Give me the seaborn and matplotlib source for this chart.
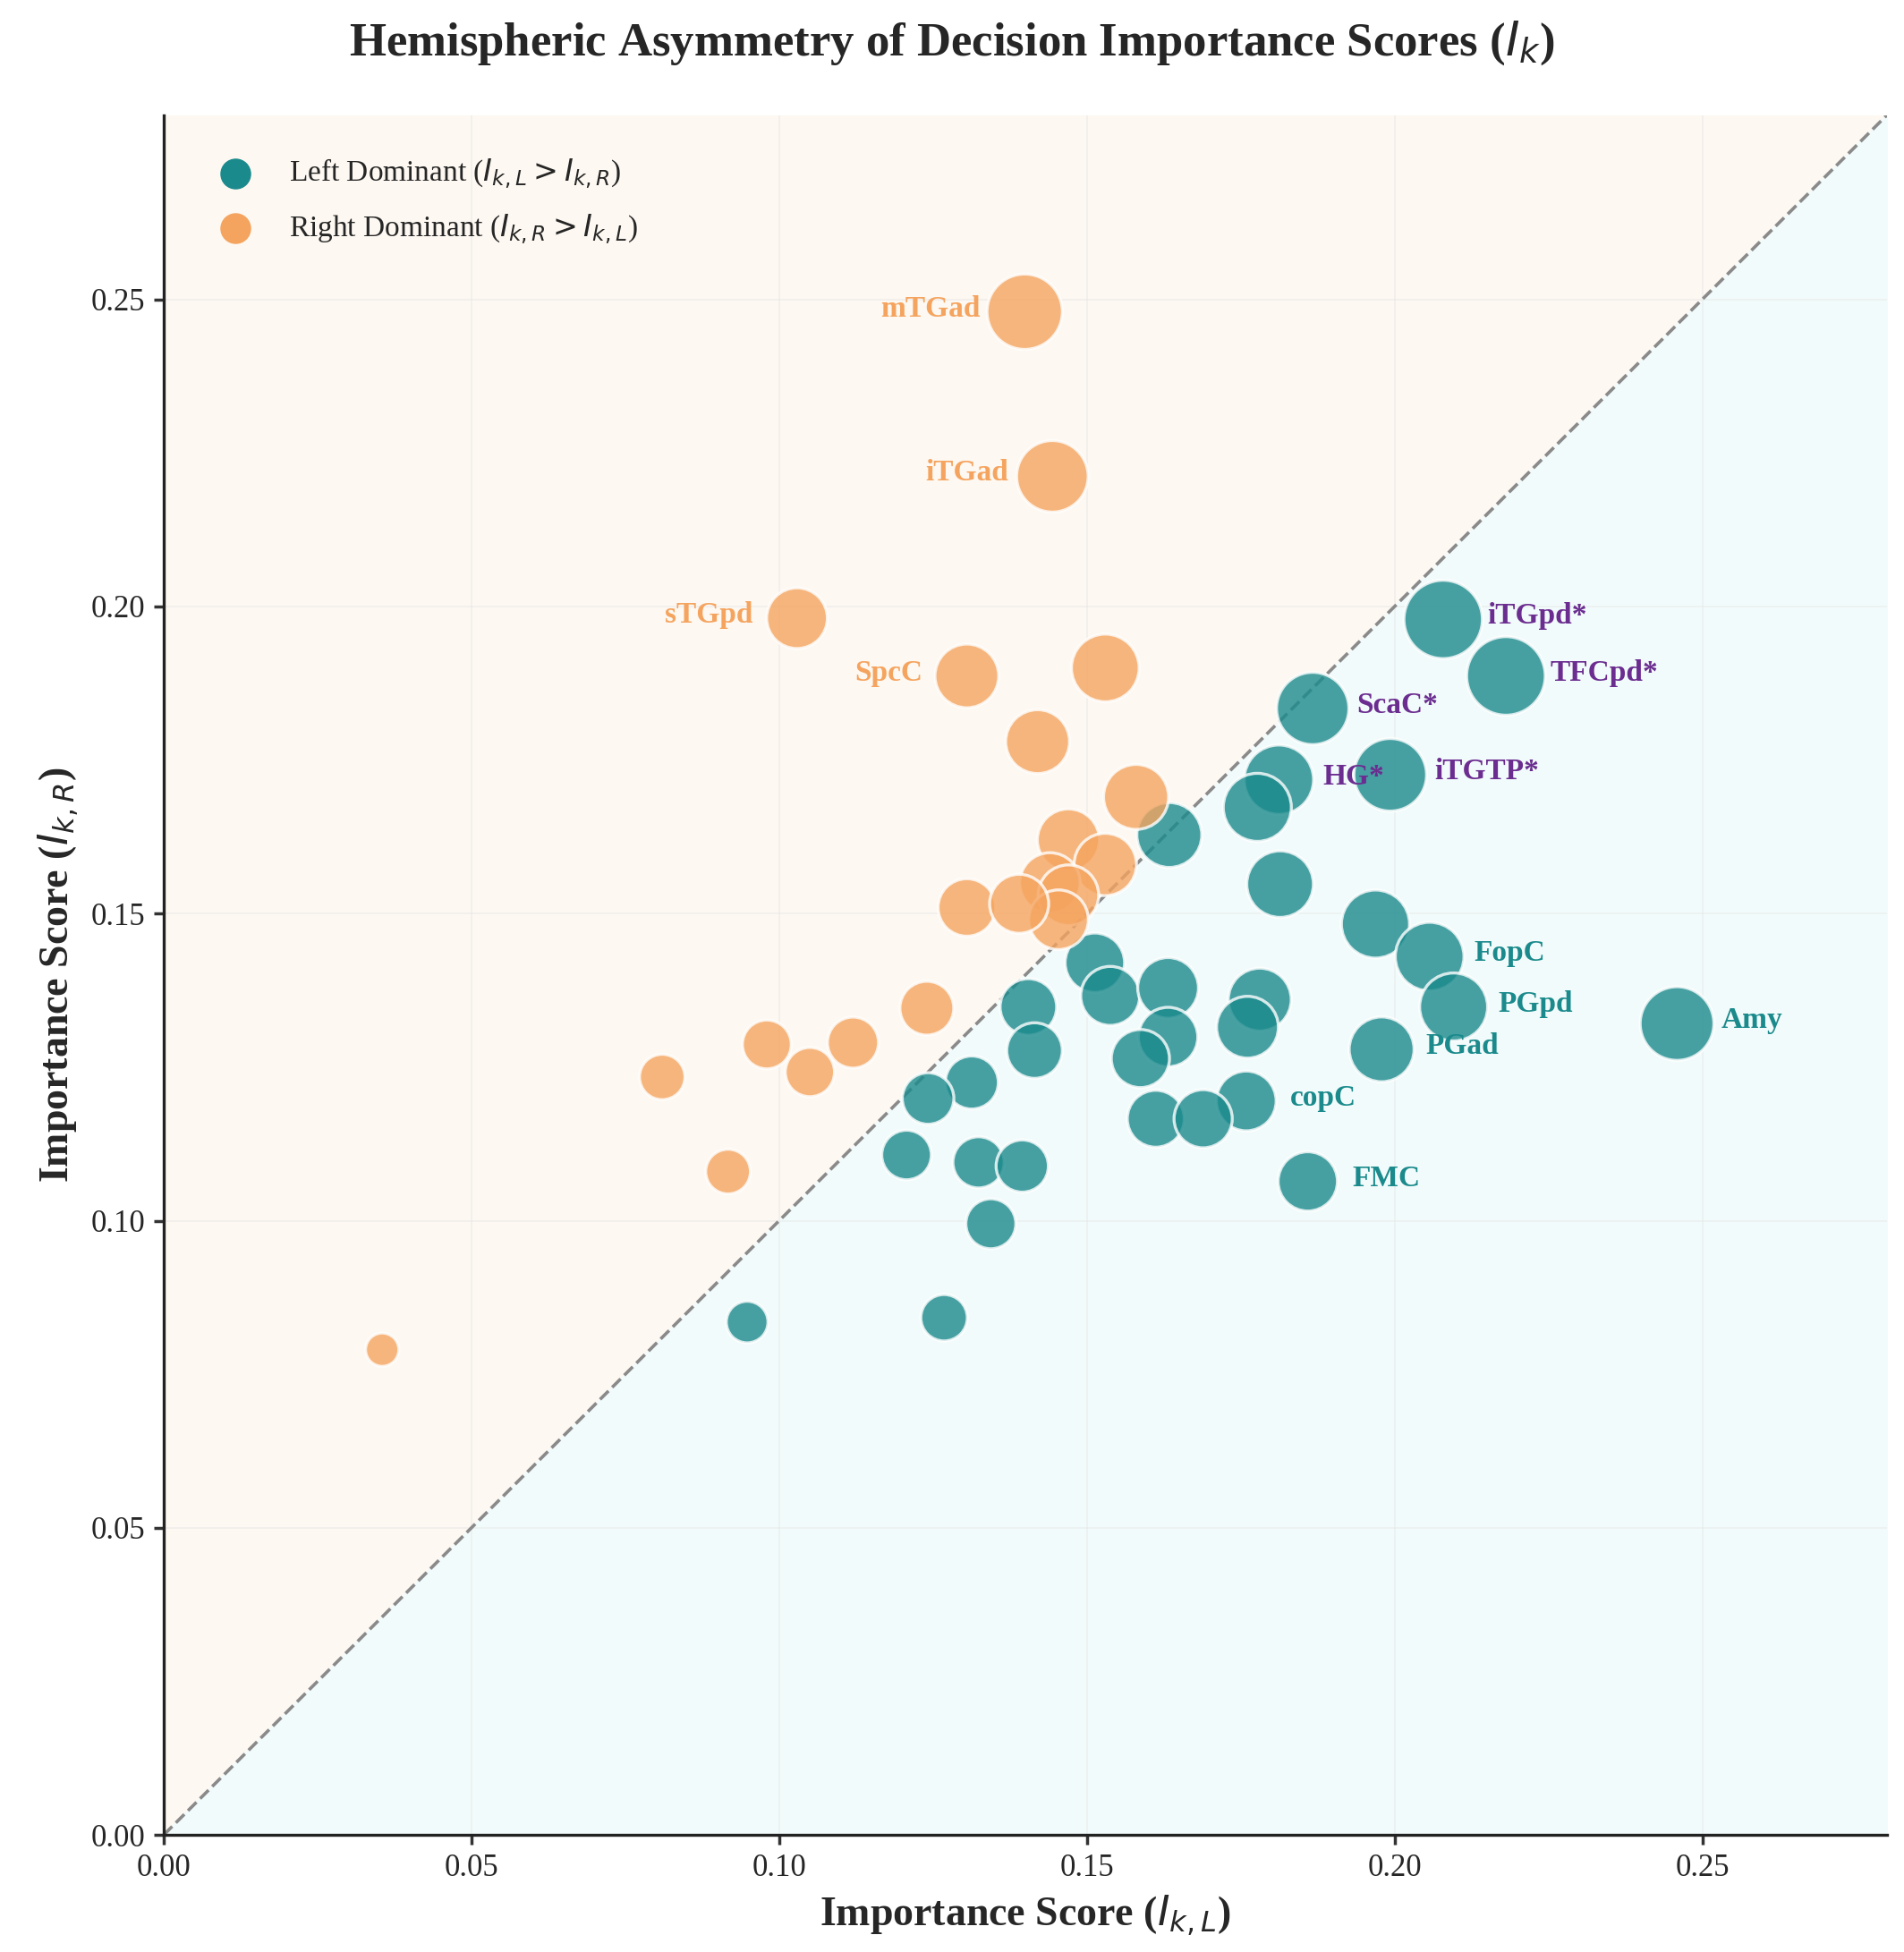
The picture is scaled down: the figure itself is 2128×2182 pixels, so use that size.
import numpy as np
import pandas as pd
import matplotlib
matplotlib.use("Agg")
import matplotlib.pyplot as plt
import seaborn as sns

# Right dominant regions (orange)
right_x = [0.1399, 0.1444, 0.1029, 0.1305, 0.153, 0.142, 0.158, 0.147, 0.153, 0.144, 0.147,
           0.1454, 0.1305, 0.139, 0.124, 0.112, 0.098, 0.105, 0.081, 0.0917, 0.0355]
right_y = [0.248, 0.2212, 0.1981, 0.1887, 0.190, 0.178, 0.169, 0.162, 0.158, 0.155, 0.153,
           0.149, 0.151, 0.1516, 0.1346, 0.129, 0.1287, 0.1242, 0.1234, 0.108, 0.079]
right_names = ["mTGad", "iTGad", "sTGpd", "SpcC"] + [""] * 17

# Left dominant regions (teal)
left_x = [0.2079, 0.2181, 0.1867, 0.1812, 0.1777, 0.1993, 0.1634, 0.1814, 0.1969, 0.2057,
          0.1513, 0.1538, 0.1632, 0.1781, 0.1405, 0.2096, 0.2459, 0.1761, 0.1632, 0.1415,
          0.1979, 0.1587, 0.1313, 0.1242, 0.1759, 0.1612, 0.1689, 0.1207, 0.1324, 0.1395,
          0.1859, 0.1344, 0.0948, 0.1268]
left_y = [0.1979, 0.1887, 0.1834, 0.1718, 0.1673, 0.1726, 0.1628, 0.1548, 0.1483, 0.143,
          0.142, 0.1366, 0.1379, 0.136, 0.1348, 0.1348, 0.1321, 0.1315, 0.1299, 0.1277,
          0.1279, 0.1264, 0.1225, 0.1199, 0.1195, 0.1166, 0.1166, 0.1107, 0.1095, 0.1089,
          0.1064, 0.0995, 0.0835, 0.0842]
left_names = ["iTGpd*", "TFCpd*", "ScaC*", "HG*", "", "iTGTP*", "", "", "", "FopC",
              "", "", "", "", "", "PGpd", "Amy", "", "", "",
              "PGad", "", "", "", "copC", "", "", "", "", "",
              "FMC", "", "", ""]

TEAL = "#1b8a8c"
ORANGE = "#f5a45f"
PURPLE = "#6b2d90"

df = pd.DataFrame({
    "L": left_x + right_x,
    "R": left_y + right_y,
    "name": left_names + right_names,
    "group": ["Left"] * len(left_x) + ["Right"] * len(right_x),
})
df["mean"] = (df["L"] + df["R"]) / 2
df["sz"] = df["mean"] ** 2

sns.set_theme(style="whitegrid")
plt.rcParams["font.family"] = ["Liberation Serif", "DejaVu Serif"]
plt.rcParams["mathtext.fontset"] = "dejavusans"

fig = plt.figure(figsize=(10.64, 10.91), dpi=200)
ax = fig.add_axes([0.086, 0.060, 0.905, 0.881])
lim = 0.28
ax.fill_between([0, lim], [0, lim], lim, color="#fdf8f1", zorder=0)
ax.fill_between([0, lim], 0, [0, lim], color="#f2fbfb", zorder=0)
ax.plot([0, lim], [0, lim], ls="--", color="#8a8a8a", lw=1.3, zorder=1)

sns.scatterplot(data=df, x="L", y="R", hue="group", size="sz", sizes=(180, 1000),
                palette={"Left": TEAL, "Right": ORANGE}, alpha=0.8,
                edgecolor="white", linewidth=1.2, legend=False, ax=ax, zorder=3)

for _, r in df[df["name"] != ""].iterrows():
    if r["group"] == "Left":
        c = PURPLE if r["name"].endswith("*") else TEAL
        ax.text(r["L"] + 0.0072, r["R"] + 0.0005, r["name"], color=c, fontsize=12,
                fontweight="bold", ha="left", va="center", zorder=4)
    else:
        ax.text(r["L"] - 0.0072, r["R"] + 0.0005, r["name"], color=ORANGE, fontsize=12,
                fontweight="bold", ha="right", va="center", zorder=4)

ax.scatter([], [], s=130, color=TEAL, label=r"Left Dominant ($I_{k,L} > I_{k,R}$)")
ax.scatter([], [], s=130, color=ORANGE, label=r"Right Dominant ($I_{k,R} > I_{k,L}$)")
ax.legend(loc="upper left", frameon=False, fontsize=12, borderaxespad=1.0, labelspacing=0.7)

ax.set_xlim(0, lim)
ax.set_ylim(0, lim)
ticks = [0.0, 0.05, 0.10, 0.15, 0.20, 0.25]
ax.set_xticks(ticks)
ax.set_yticks(ticks)
ax.set_xticklabels([f"{t:.2f}" for t in ticks], fontsize=12.5)
ax.set_yticklabels([f"{t:.2f}" for t in ticks], fontsize=12.5)
ax.tick_params(axis="both", length=4, color="#333333", bottom=True, left=True)
ax.grid(True, color="#e8e8e8", lw=0.6, alpha=0.6)
ax.set_axisbelow(True)
for s in ["top", "right"]:
    ax.spines[s].set_visible(False)
for s in ["left", "bottom"]:
    ax.spines[s].set_color("#222222")
    ax.spines[s].set_linewidth(1.2)

ax.set_xlabel(r"Importance Score ($I_{k,L}$)", fontsize=16.5, fontweight="bold")
ax.set_ylabel(r"Importance Score ($I_{k,R}$)", fontsize=16.5, fontweight="bold")
fig.suptitle(r"Hemispheric Asymmetry of Decision Importance Scores ($I_k$)",
             fontsize=19, fontweight="bold", y=0.99)

fig.savefig("out.png", dpi=200)
